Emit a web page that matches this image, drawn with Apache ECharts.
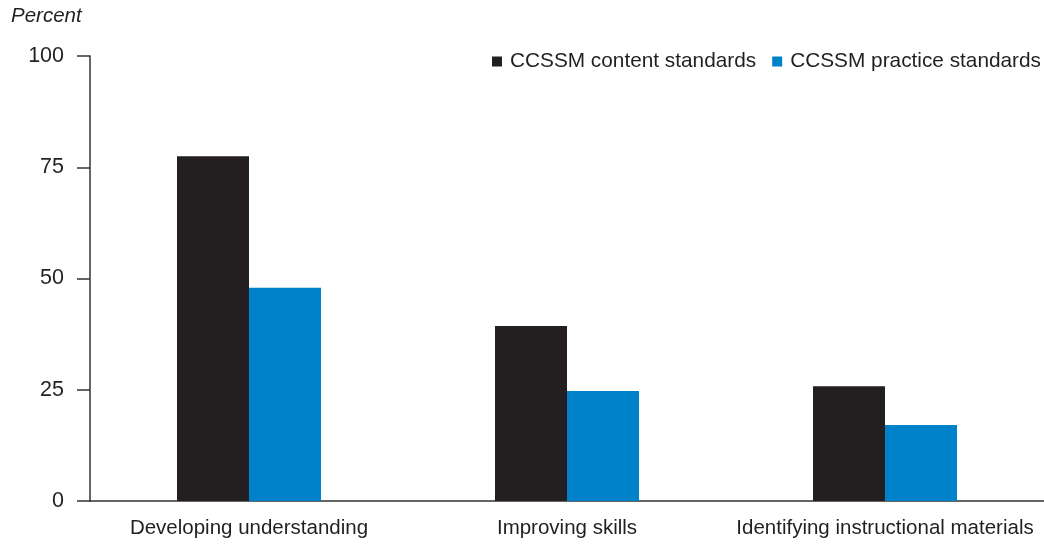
<!DOCTYPE html>
<html><head><meta charset="utf-8">
<script src="https://cdn.jsdelivr.net/npm/echarts@6/dist/echarts.min.js"></script>
<style>html,body{margin:0;padding:0;background:#fff}#c{width:1044px;height:544px}</style>
</head><body><div id="c"></div>
<script>
const categories = ["Developing understanding", "Improving skills", "Identifying instructional materials"];
const seriesNames = ["CCSSM content standards", "CCSSM practice standards"];
const contentStd = [77.5, 39.3, 25.8];
const practiceStd = [47.9, 24.7, 17.1];
const yTicks = [0, 25, 50, 75, 100];

const font = "Liberation Sans";
const txt = "#231f20";
const chart = echarts.init(document.getElementById('c'));
chart.setOption({
  animation: false,
  textStyle: {fontFamily: font},
  grid: {left: 90, right: 0, top: 56, bottom: 43, containLabel: false},
  title: {text: "Percent", left: 11, top: 6, padding: 0, textStyle: {fontFamily: font, fontStyle: "italic", fontWeight: "normal", fontSize: 20.5, color: txt}},
  legend: {
    right: 3, top: 51, padding: 0, itemWidth: 10, itemHeight: 10, itemGap: 16,
    icon: "rect",
    textStyle: {fontFamily: font, fontSize: 20.8, color: txt, padding: [0, 0, 0, 3]},
    data: seriesNames
  },
  xAxis: {
    type: "category", data: categories,
    axisLine: {show: true, lineStyle: {color: "#333", width: 1.5}},
    axisTick: {show: false},
    axisLabel: {interval: 0, fontFamily: font, fontSize: 20.5, color: txt, margin: 17}
  },
  yAxis: {
    type: "value", min: 0, max: 100, interval: 25,
    axisLine: {show: true, lineStyle: {color: "#333", width: 1.5}},
    axisTick: {show: true, length: 13, lineStyle: {color: "#333", width: 1.5}},
    splitLine: {show: false},
    axisLabel: {fontFamily: font, fontSize: 21.5, color: txt, margin: 26,
      formatter: v => yTicks.includes(v) ? String(v) : ""}
  },
  series: [
    {name: seriesNames[0], type: "bar", data: contentStd, barWidth: 72, barGap: "0%", itemStyle: {color: "#231f20"}},
    {name: seriesNames[1], type: "bar", data: practiceStd, barWidth: 72, barGap: "0%", itemStyle: {color: "#0082ca"}}
  ]
});
</script>
</body></html>
